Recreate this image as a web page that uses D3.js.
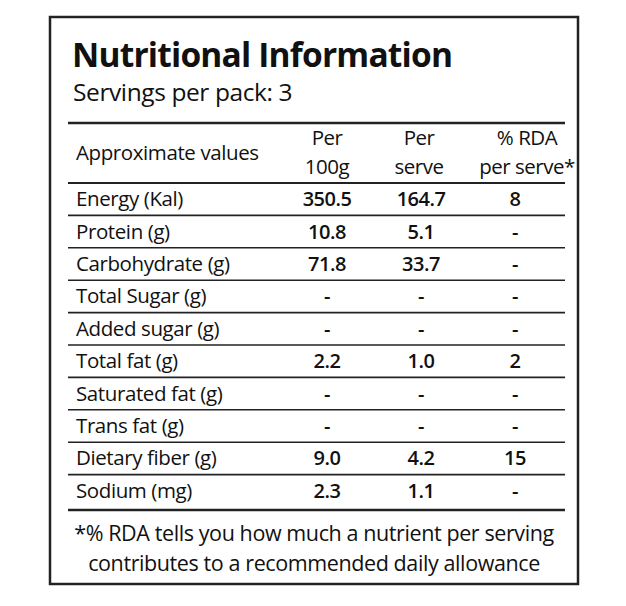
<!DOCTYPE html>
<html>
<head>
<meta charset="utf-8">
<script src="https://cdn.jsdelivr.net/npm/d3@7"></script>
<style>
  body { margin: 0; background: #fff; }
  text { font-family: "Open Sans", sans-serif; fill: #111; }
</style>
</head>
<body>
<svg id="chart" width="626" height="606"></svg>
<script>
// Table content
const nutrients = ["Energy (Kal)", "Protein (g)", "Carbohydrate (g)", "Total Sugar (g)", "Added sugar (g)",
  "Total fat (g)", "Saturated fat (g)", "Trans fat (g)", "Dietary fiber (g)", "Sodium (mg)"];
const per100g = ["350.5", "10.8", "71.8", "-", "-", "2.2", "-", "-", "9.0", "2.3"];
const perServe = ["164.7", "5.1", "33.7", "-", "-", "1.0", "-", "-", "4.2", "1.1"];
const rdaPerServe = ["8", "-", "-", "-", "-", "2", "-", "-", "15", "-"];
const headers = [["Per", "100g"], ["Per", "serve"], ["% RDA", "per serve*"]];
const footnote = ["*% RDA tells you how much a nutrient per serving",
  "contributes to a recommended daily allowance"];

const svg = d3.select("#chart");
const left = 68, right = 565;

// outer box
svg.append("rect").attr("x", 50).attr("y", 17).attr("width", 528).attr("height", 567)
  .attr("fill", "none").attr("stroke", "#222").attr("stroke-width", 2.5);

svg.append("text").attr("x", 72).attr("y", 67).attr("font-size", 33.5).attr("font-weight", 700)
  .attr("letter-spacing", -0.8).text("Nutritional Information");
svg.append("text").attr("x", 73).attr("y", 101).attr("font-size", 24.5)
  .attr("letter-spacing", -0.4).text("Servings per pack: 3");

const colX = d3.scalePoint().domain([0, 1, 2]).range([327, 515]);
const rowY = d3.scaleBand().domain(d3.range(nutrients.length)).range([183, 507]);

// header
svg.append("text").attr("x", 76).attr("y", 160).attr("font-size", 20.5).attr("font-weight", 500)
  .attr("letter-spacing", -0.4).text("Approximate values");
headers.forEach((h, i) => {
  const x = i === 2 ? colX(2) + 12 : colX(i) + (i === 1 ? -2 : 0);
  h.forEach((line, j) => {
    svg.append("text").attr("x", x).attr("y", 145 + j * 29).attr("font-size", 20.5).attr("font-weight", 500)
      .attr("text-anchor", "middle").attr("letter-spacing", -0.5).text(line);
  });
});

// rules
const line = (y, w) => svg.append("line").attr("x1", left).attr("x2", right)
  .attr("y1", y).attr("y2", y).attr("stroke", "#222").attr("stroke-width", w);
line(123, 2.5);
line(183, 2);
d3.range(1, nutrients.length).forEach(i => line(rowY(i), 1.6));
line(510, 2.5);

// rows
const cols = [per100g, perServe, rdaPerServe];
nutrients.forEach((n, i) => {
  const y = rowY(i) + rowY.bandwidth() / 2 + 7;
  svg.append("text").attr("x", 76).attr("y", y).attr("font-size", 20.5).attr("font-weight", 500)
    .attr("letter-spacing", -0.4).text(n);
  cols.forEach((c, j) => {
    svg.append("text").attr("x", colX(j)).attr("y", y).attr("font-size", 20)
      .attr("font-weight", 600).attr("text-anchor", "middle").attr("letter-spacing", -0.5).text(c[i]);
  });
});

footnote.forEach((t, i) => {
  svg.append("text").attr("x", 314).attr("y", 541 + i * 30).attr("font-size", 21.5).attr("font-weight", 500)
    .attr("text-anchor", "middle").attr("letter-spacing", -0.4).text(t);
});
</script>
</body>
</html>
